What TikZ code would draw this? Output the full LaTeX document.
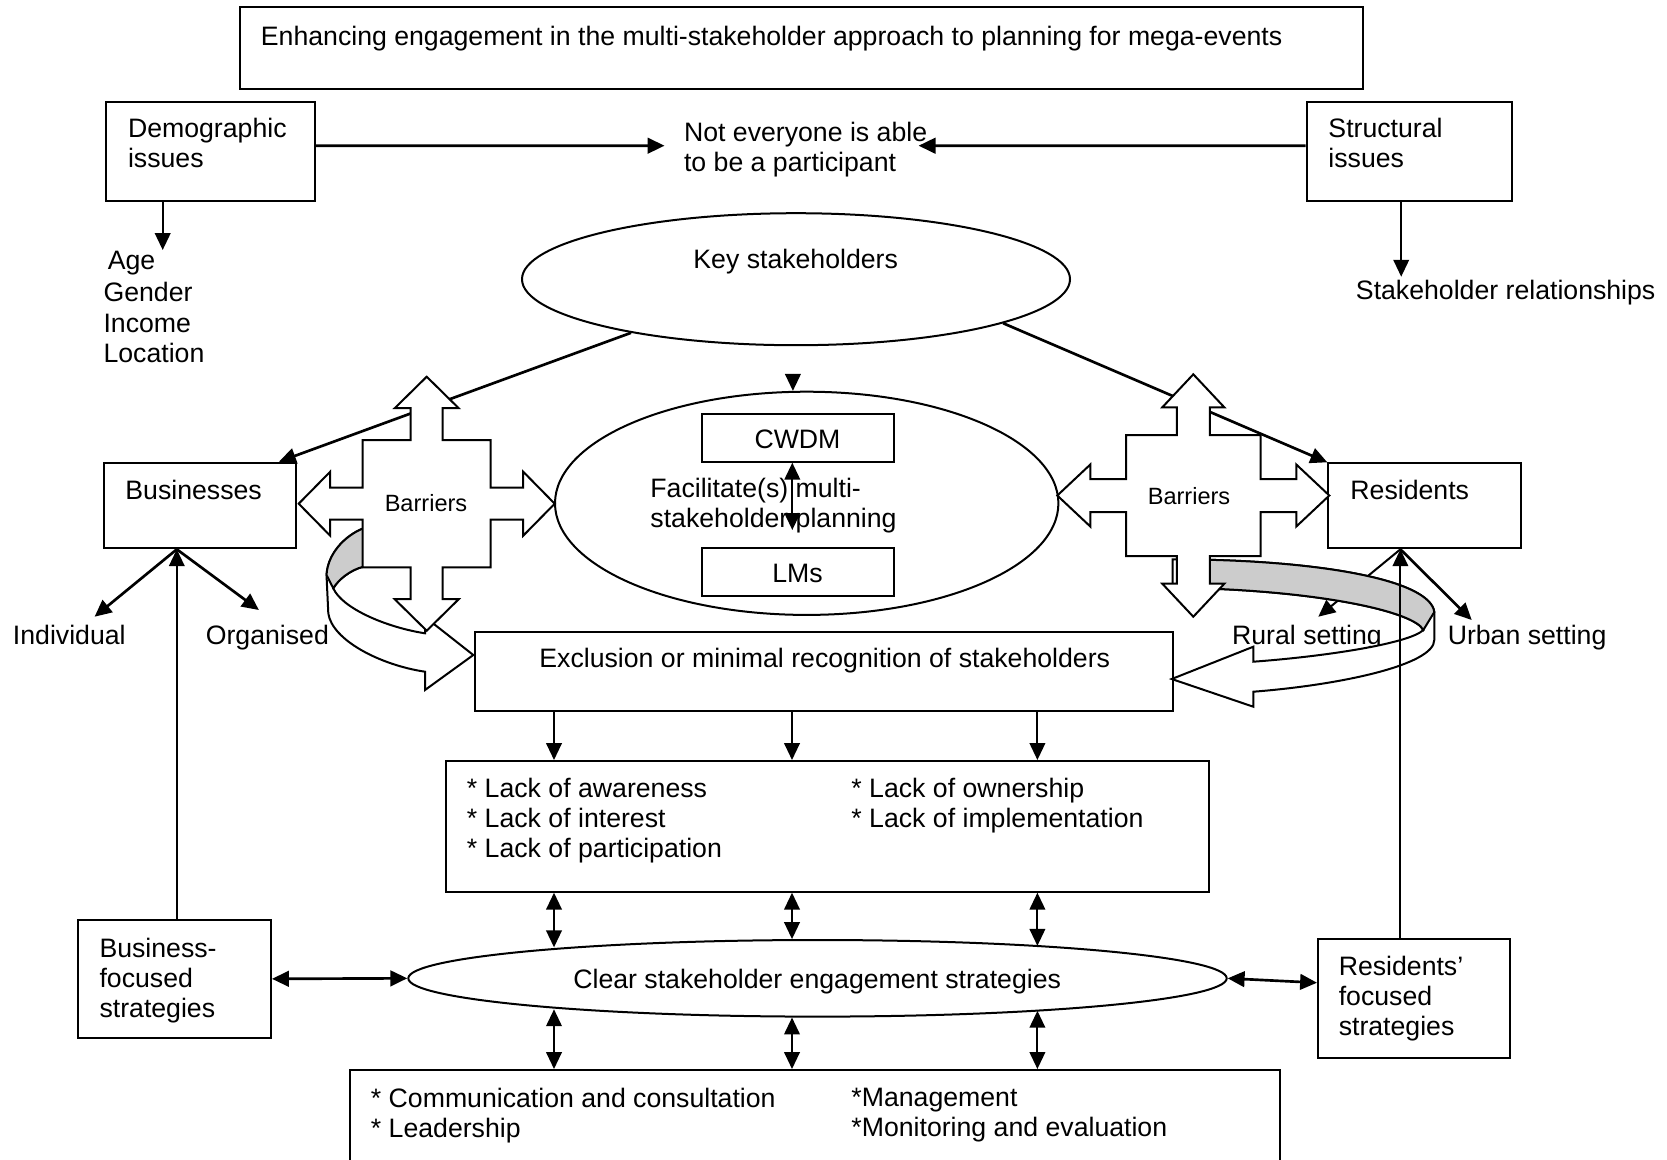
\documentclass[tikz,border=0pt]{standalone}
\usepackage{fontspec}
\setmainfont{Liberation Sans}
\usetikzlibrary{arrows.meta,shapes.geometric,fit}

\newcommand\mainsize{\fontsize{12pt}{13.5pt}\selectfont}
\newcommand\smallsize{\fontsize{10.6pt}{12pt}\selectfont}

% four-headed "barriers" arrow:
% #1,#2 centre; #3,#4 body half-width/height; #5 shaft half-width;
% #6 head half-width; #7 head length; #8,#9 tip distance (horizontal, vertical)
\newcommand\barriercross[9]{%
  \begin{scope}[shift={(#1,#2)}]
    \pgfmathsetmacro\hbx{#8-#7}%
    \pgfmathsetmacro\hby{#9-#7}%
    \filldraw[fill=white,line width=0.9pt,line join=miter]
      (0,-#9) -- (#6,-\hby) -- (#5,-\hby) -- (#5,-#4) -- (#3,-#4) -- (#3,-#5)
      -- (\hbx,-#5) -- (\hbx,-#6) -- (#8,0) -- (\hbx,#6) -- (\hbx,#5) -- (#3,#5)
      -- (#3,#4) -- (#5,#4) -- (#5,\hby) -- (#6,\hby) -- (0,#9) -- (-#6,\hby)
      -- (-#5,\hby) -- (-#5,#4) -- (-#3,#4) -- (-#3,#5) -- (-\hbx,#5) -- (-\hbx,#6)
      -- (-#8,0) -- (-\hbx,-#6) -- (-\hbx,-#5) -- (-#3,-#5) -- (-#3,-#4) -- (-#5,-#4)
      -- (-#5,-\hby) -- (-#6,-\hby) -- cycle;
  \end{scope}}

\begin{document}
\begin{tikzpicture}[x=0.45pt,y=-0.45pt,
  >={Triangle[length=7.6pt,width=7pt]},
  frame/.style={draw,line width=0.9pt,inner sep=0pt,fill=white},
  oval/.style={draw,ellipse,line width=0.9pt,inner sep=0pt,fill=white},
  txt/.style={anchor=north west,inner sep=0pt,align=left,font=\mainsize,execute at begin node=\strut},
  ctxt/.style={anchor=base,inner sep=0pt,font=\mainsize},
  conn/.style={line width=0.9pt},
  heavy/.style={line width=1.2pt},
  band/.style={draw,line width=0.9pt,fill=white,line join=miter},
  bandback/.style={draw,line width=0.9pt,fill=gray!40,line join=miter},
]
\useasboundingbox (0,0) rectangle (1667,1159);

% ---------- boxes and ovals ----------
\node[frame,fit={(240.3,7.3) (1363,89)}] (title) {};
\node[frame,fit={(106.3,101.7) (314.7,201)}] (demo) {};
\node[frame,fit={(1306.6,101.7) (1511.8,201)}] (struc) {};
\node[oval,minimum width=548*0.45pt,minimum height=132*0.45pt] (key) at (796,279.2) {};
\node[frame,fit={(103.6,462.7) (296.4,548.3)}] (bus) {};
\node[frame,fit={(1328.3,463.3) (1520.7,548.3)}] (res) {};
\node[oval,minimum width=503.4*0.45pt,minimum height=223.2*0.45pt] (fac) at (806.7,503.3) {};
\node[frame,fit={(701.5,414.3) (893.5,461.7)}] (cwdm) {};
\node[frame,fit={(701.5,548.3) (893.5,596)}] (lms) {};
\node[frame,fit={(474.5,631.7) (1173.3,710.7)}] (excl) {};
\node[frame,fit={(445.5,761) (1208.5,891.7)}] (lack) {};
\node[oval,minimum width=818.4*0.45pt,minimum height=76.6*0.45pt] (clear) at (817.5,978.3) {};
\node[frame,fit={(78.1,920) (271,1037.7)}] (bf) {};
\node[frame,fit={(1318,939.3) (1509.7,1057.7)}] (rf) {};
\node[frame,fit={(349.5,1070) (1280,1180)}] (act) {};

% ---------- texts ----------
\node[txt] (titleT) at (260.5,24.5) {Enhancing engagement in the multi-stakeholder approach to planning for mega-events};
\node[txt] (demoT) at (127.6,117.5) {Demographic\\issues};
\node[txt] (strucT) at (1328,117.5) {Structural\\issues};
\node[txt] (notT) at (683.6,121.5) {Not everyone is able\\to be a participant};
\node[txt] (ageT) at (107.4,248.5) {Age};
\node[txt] (genderT) at (103.1,280.2) {Gender};
\node[txt] (incomeT) at (103.1,310.8) {Income};
\node[txt] (locT) at (103.1,340.8) {Location};
\node[txt] (relT) at (1355.5,278.5) {Stakeholder relationships};
\node[ctxt] (keyT) at (795.7,268.5) {Key stakeholders};
\node[txt] (busT) at (125,478.5) {Businesses};
\node[txt] (resT) at (1350,478.5) {Residents};
\node[ctxt] (cwdmT) at (797.5,448.5) {CWDM};
\node[ctxt] (lmsT) at (797.5,582.7) {LMs};
\node[txt] (facT) at (650,477.8) {Facilitate(s) multi-\\stakeholder planning};
\node[txt] (indT) at (12.5,623.5) {Individual};
\node[txt] (orgT) at (205.4,623.5) {Organised};
\node[txt] (ruralT) at (1231.7,623.5) {Rural setting};
\node[txt] (urbanT) at (1447.3,623.5) {Urban setting};
\node[txt] (exclT) at (539,646.5) {Exclusion or minimal recognition of stakeholders};
\node[txt] (lackA) at (466.5,777.8) {* Lack of awareness\\* Lack of interest\\* Lack of participation};
\node[txt] (lackB) at (851,777.8) {* Lack of ownership\\* Lack of implementation};
\node[ctxt] (clearT) at (817.2,988.8) {Clear stakeholder engagement strategies};
\node[txt] (bfT) at (99.1,937.3) {Business-\\focused\\strategies};
\node[txt] (rfT) at (1338.3,955.7) {Residents’\\focused\\strategies};
\node[txt] (actA) at (370.5,1087.3) {* Communication and consultation\\* Leadership};
\node[txt] (actB) at (851,1087.3) {*Management\\*Monitoring and evaluation};

% ---------- connector end points ----------
\coordinate (notL) at (664.5,145.7);
\coordinate (notR) at (918.6,145.7);
\coordinate (demoTip) at (162.7,250);
\coordinate (strucTip) at (1401.2,276.7);
\coordinate (indTip) at (94.6,616.7);
\coordinate (orgTip) at (258.9,610);
\coordinate (ruralTip) at (1318.3,616.7);
\coordinate (urbanTip) at (1471.7,620);
\coordinate (lmTip) at (792.3,530);
\coordinate (colA) at (554,0);
\coordinate (colB) at (792,0);
\coordinate (colC) at (1037.4,0);
\coordinate (busB) at ([xshift=-10.44pt]bus.south);
\coordinate (resB) at ([xshift=-10.85pt]res.south);

% ---------- connectors lying underneath the shapes ----------
\draw[heavy,->] (key.-162.4) -- ([xshift=-8.3pt]bus.north east);
\draw[heavy,->] (key.-12.3) -- (res.north west);
\draw[conn,->] (resB) -- (ruralTip);

% ---------- curved arrows into the exclusion box ----------
\draw[band] (363.7,528.3) .. controls (350,533) and (328,550) .. (326.5,575)
  -- (328.3,613.3) .. controls (332,640) and (380,665) .. (425,671.7)
  -- (425,690) -- (473.3,655) -- (425,617) -- (425,633.3)
  .. controls (385,627) and (342,608) .. (333.3,588.3)
  .. controls (338,580) and (350,570) .. (363.3,566.7) -- cycle;
\draw[bandback] (363.7,528.3) .. controls (350,533) and (328,550) .. (326.5,575)
  -- (333.3,588.3) .. controls (338,580) and (350,570) .. (363.3,566.7) -- cycle;

\draw[band] (1172.7,559.3) -- (1177.3,559.3)
  .. controls (1320,560) and (1430,580) .. (1434.3,612)
  -- (1434.3,640) .. controls (1434,665) and (1340,685) .. (1253.3,691.7)
  -- (1253.3,706.7) -- (1171.7,679) -- (1253.3,646.7) -- (1253.3,661.7)
  .. controls (1330,656) and (1410,643) .. (1423.3,630)
  .. controls (1415,612) and (1320,590) .. (1177.3,587.7)
  -- (1172.7,587.7) -- cycle;
\draw[bandback] (1177.3,559.3) .. controls (1320,560) and (1430,580) .. (1434.3,612)
  -- (1423.3,630) .. controls (1415,612) and (1320,590) .. (1177.3,587.7) -- cycle;

% ---------- barriers ----------
\barriercross{426.7}{503.7}{64}{63.7}{16}{32}{31.5}{128}{127}
\barriercross{1193.3}{495.5}{67.2}{60.5}{16.5}{31}{33}{136}{121.2}
\node[anchor=base,inner sep=0pt,font=\smallsize] (barL) at (426,511.2) {Barriers};
\node[anchor=base,inner sep=0pt,font=\smallsize] (barR) at (1189,504.5) {Barriers};

% ---------- remaining connectors ----------
\draw[heavy,->] ([yshift=2.54pt]demo.east) -- (notL);
\draw[heavy,->] ([yshift=2.54pt]struc.west) -- (notR);
\draw[conn,->] (demo.south -| demoTip) -- (demoTip);
\draw[conn,->] (struc.south -| strucTip) -- (strucTip);
\draw[conn,->] ([yshift=7.6pt]fac.97.1) -- (fac.97.1);
\draw[conn,<->] (cwdm.south -| lmTip) -- (lmTip);
\draw[heavy,->] (busB) -- (indTip);
\draw[heavy,->] (busB) -- (orgTip);
\draw[heavy,->] (resB) -- (urbanTip);
\draw[conn,->] (bf.north -| busB) -- (busB);
\draw[conn,->] (rf.north -| resB) -- (resB);
\foreach \c in {colA,colB,colC}
  \draw[conn,->] (excl.south -| \c) -- (lack.north -| \c);
\draw[conn,<->] (lack.south -| colA) -- (clear.173.65 -| colA);
\draw[conn,<->] (lack.south -| colB) -- (clear.123.70 -| colB);
\draw[conn,<->] (lack.south -| colC) -- (clear.8.36 -| colC);
\draw[conn,<->] (clear.-173.65 -| colA) -- (act.north -| colA);
\draw[conn,<->] (clear.-123.70 -| colB) -- (act.north -| colB);
\draw[conn,<->] (clear.-8.36 -| colC) -- (act.north -| colC);
\draw[heavy,<->] (bf.east) -- (clear.west);
\draw[heavy,<->] (clear.east) -- ([yshift=7.1pt]rf.west);
\end{tikzpicture}
\end{document}
